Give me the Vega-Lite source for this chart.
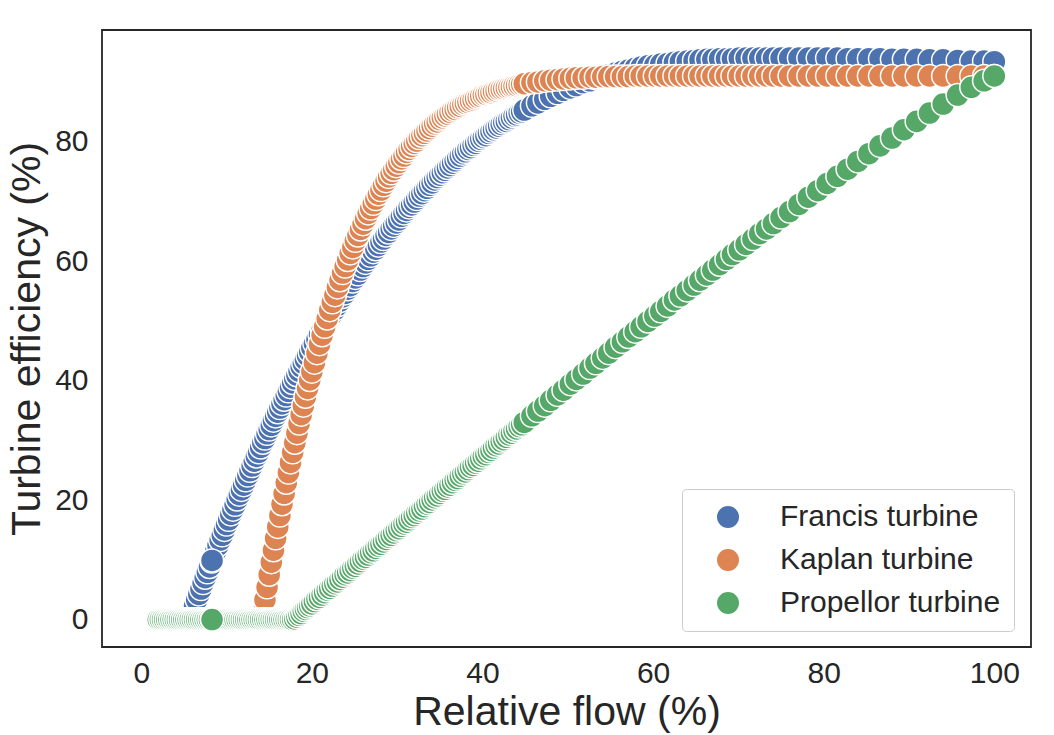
{
  "$schema": "https://vega.github.io/schema/vega-lite/v6.json",
  "width": 929,
  "height": 617,
  "autosize": {"type": "none"},
  "padding": {"left": 102, "top": 30, "right": 23, "bottom": 88},
  "background": "white",
  "datasets": {
    "francis": [
      {"flow":2,"eff":0},{"flow":2.25,"eff":0},{"flow":2.5,"eff":0},{"flow":2.75,"eff":0},{"flow":3,"eff":0},{"flow":3.25,"eff":0},{"flow":3.5,"eff":0},{"flow":3.75,"eff":0},{"flow":4,"eff":0},{"flow":4.25,"eff":0},{"flow":4.5,"eff":0},{"flow":4.75,"eff":0},{"flow":5,"eff":0},{"flow":5.25,"eff":0},{"flow":5.5,"eff":0},
      {"flow":5.75,"eff":0.4},{"flow":6,"eff":1.4},{"flow":6.25,"eff":2.3},{"flow":6.5,"eff":3.3},{"flow":6.75,"eff":4.2},{"flow":7,"eff":5.1},{"flow":7.25,"eff":6.1},{"flow":7.5,"eff":7.0},{"flow":7.75,"eff":7.9},{"flow":8,"eff":8.8},{"flow":8.25,"eff":9.7},{"flow":8.5,"eff":10.6},{"flow":8.75,"eff":11.5},{"flow":9,"eff":12.4},{"flow":9.25,"eff":13.3},{"flow":9.5,"eff":14.1},{"flow":9.75,"eff":15.0},{"flow":10,"eff":15.9},{"flow":10.25,"eff":16.7},{"flow":10.5,"eff":17.6},{"flow":10.75,"eff":18.4},{"flow":11,"eff":19.2},{"flow":11.25,"eff":20.1},{"flow":11.5,"eff":20.9},{"flow":11.75,"eff":21.7},{"flow":12,"eff":22.5},{"flow":12.25,"eff":23.3},{"flow":12.5,"eff":24.1},{"flow":12.75,"eff":24.9},{"flow":13,"eff":25.7},{"flow":13.25,"eff":26.5},{"flow":13.5,"eff":27.3},{"flow":13.75,"eff":28.0},{"flow":14,"eff":28.8},{"flow":14.25,"eff":29.6},{"flow":14.5,"eff":30.3},{"flow":14.75,"eff":31.1},{"flow":15,"eff":31.8},{"flow":15.25,"eff":32.5},{"flow":15.5,"eff":33.3},{"flow":15.75,"eff":34.0},{"flow":16,"eff":34.7},{"flow":16.25,"eff":35.4},{"flow":16.5,"eff":36.1},{"flow":16.75,"eff":36.8},{"flow":17,"eff":37.5},{"flow":17.25,"eff":38.2},{"flow":17.5,"eff":38.9},{"flow":17.75,"eff":39.6},{"flow":18,"eff":40.3},{"flow":18.25,"eff":40.9},{"flow":18.5,"eff":41.6},{"flow":18.75,"eff":42.3},{"flow":19,"eff":42.9},{"flow":19.25,"eff":43.5},{"flow":19.5,"eff":44.2},{"flow":19.75,"eff":44.8},{"flow":20,"eff":45.5},
      {"flow":20.3,"eff":46.2},{"flow":20.6,"eff":46.9},{"flow":20.9,"eff":47.7},{"flow":21.2,"eff":48.4},{"flow":21.5,"eff":49.1},{"flow":21.8,"eff":49.8},{"flow":22.1,"eff":50.6},{"flow":22.4,"eff":51.2},{"flow":22.7,"eff":51.9},{"flow":23,"eff":52.6},{"flow":23.3,"eff":53.3},{"flow":23.6,"eff":54.0},{"flow":23.9,"eff":54.6},{"flow":24.2,"eff":55.3},{"flow":24.5,"eff":55.9},{"flow":24.8,"eff":56.6},{"flow":25.1,"eff":57.2},{"flow":25.4,"eff":57.8},{"flow":25.7,"eff":58.5},{"flow":26,"eff":59.1},{"flow":26.3,"eff":59.7},{"flow":26.6,"eff":60.3},{"flow":26.9,"eff":60.9},{"flow":27.2,"eff":61.5},{"flow":27.5,"eff":62.0},{"flow":27.8,"eff":62.6},{"flow":28.1,"eff":63.2},{"flow":28.4,"eff":63.7},{"flow":28.7,"eff":64.3},{"flow":29,"eff":64.8},{"flow":29.3,"eff":65.4},{"flow":29.6,"eff":65.9},{"flow":29.9,"eff":66.4},{"flow":30.2,"eff":66.9},{"flow":30.5,"eff":67.5},{"flow":30.8,"eff":68.0},{"flow":31.1,"eff":68.5},{"flow":31.4,"eff":69.0},{"flow":31.7,"eff":69.4},{"flow":32,"eff":69.9},{"flow":32.3,"eff":70.4},{"flow":32.6,"eff":70.9},{"flow":32.9,"eff":71.3},{"flow":33.2,"eff":71.8},{"flow":33.5,"eff":72.2},{"flow":33.8,"eff":72.7},{"flow":34.1,"eff":73.1},{"flow":34.4,"eff":73.6},{"flow":34.7,"eff":74.0},{"flow":35,"eff":74.4},{"flow":35.3,"eff":74.8},{"flow":35.6,"eff":75.2},{"flow":35.9,"eff":75.6},{"flow":36.2,"eff":76.0},{"flow":36.5,"eff":76.4},{"flow":36.8,"eff":76.8},{"flow":37.1,"eff":77.2},{"flow":37.4,"eff":77.6},{"flow":37.7,"eff":78.0},{"flow":38,"eff":78.3},{"flow":38.3,"eff":78.7},{"flow":38.6,"eff":79.0},{"flow":38.9,"eff":79.4},{"flow":39.2,"eff":79.7},{"flow":39.5,"eff":80.1},{"flow":39.8,"eff":80.4},{"flow":40.1,"eff":80.7},{"flow":40.4,"eff":81.0},{"flow":40.7,"eff":81.4},{"flow":41,"eff":81.7},{"flow":41.3,"eff":82.0},{"flow":41.6,"eff":82.3},{"flow":41.9,"eff":82.6},{"flow":42.2,"eff":82.9},{"flow":42.5,"eff":83.2},{"flow":42.8,"eff":83.4},{"flow":43.1,"eff":83.7},{"flow":43.4,"eff":84.0},{"flow":43.7,"eff":84.3},{"flow":44,"eff":84.5},{"flow":44.3,"eff":84.8},{"flow":44.6,"eff":85.0},{"flow":44.9,"eff":85.3},
      {"flow":45.8,"eff":86.0},{"flow":46.5,"eff":86.5},{"flow":47.3,"eff":87.1},{"flow":48,"eff":87.6},{"flow":48.8,"eff":88.1},{"flow":49.5,"eff":88.6},{"flow":50.3,"eff":89.0},{"flow":51,"eff":89.4},{"flow":51.8,"eff":89.9},{"flow":52.6,"eff":90.2},{"flow":53.3,"eff":90.6},{"flow":54.1,"eff":90.9},{"flow":54.8,"eff":91.2},{"flow":55.6,"eff":91.5},{"flow":56.4,"eff":91.8},{"flow":57.1,"eff":92.0},{"flow":57.9,"eff":92.3},{"flow":58.6,"eff":92.5},{"flow":59.4,"eff":92.7},{"flow":60.2,"eff":92.8},{"flow":60.9,"eff":93.0},{"flow":61.7,"eff":93.1},{"flow":62.5,"eff":93.3},{"flow":63.2,"eff":93.4},{"flow":64,"eff":93.5},{"flow":64.8,"eff":93.6},{"flow":65.5,"eff":93.7},{"flow":66.3,"eff":93.8},{"flow":67,"eff":93.8},{"flow":67.8,"eff":93.9},{"flow":68.6,"eff":93.9},{"flow":69.3,"eff":93.9},{"flow":70.1,"eff":94.0},{"flow":70.9,"eff":94.0},{"flow":71.7,"eff":94.0},{"flow":72.5,"eff":94.0},{"flow":73.3,"eff":94.0},{"flow":74.1,"eff":94.0},{"flow":75,"eff":94.0},
      {"flow":76,"eff":94.0},{"flow":77.1,"eff":94.0},{"flow":78.2,"eff":94.0},{"flow":79.3,"eff":94.0},{"flow":80.4,"eff":94.0},{"flow":81.6,"eff":94.0},{"flow":82.8,"eff":93.9},{"flow":84,"eff":93.9},{"flow":85.3,"eff":93.9},{"flow":86.6,"eff":93.9},{"flow":88,"eff":93.8},{"flow":89.4,"eff":93.8},{"flow":90.9,"eff":93.8},{"flow":92.4,"eff":93.7},{"flow":94,"eff":93.7},{"flow":95.7,"eff":93.6},{"flow":97.3,"eff":93.5},{"flow":98.8,"eff":93.5},{"flow":100,"eff":93.4},
      {"flow":8.3,"eff":9.9}
    ],
    "kaplan": [
      {"flow":2,"eff":0},{"flow":2.25,"eff":0},{"flow":2.5,"eff":0},{"flow":2.75,"eff":0},{"flow":3,"eff":0},{"flow":3.25,"eff":0},{"flow":3.5,"eff":0},{"flow":3.75,"eff":0},{"flow":4,"eff":0},{"flow":4.25,"eff":0},{"flow":4.5,"eff":0},{"flow":4.75,"eff":0},{"flow":5,"eff":0},{"flow":5.25,"eff":0},{"flow":5.5,"eff":0},{"flow":5.75,"eff":0},{"flow":6,"eff":0},{"flow":6.25,"eff":0},{"flow":6.5,"eff":0},{"flow":6.75,"eff":0},{"flow":7,"eff":0},{"flow":7.25,"eff":0},{"flow":7.5,"eff":0},{"flow":7.75,"eff":0},{"flow":8,"eff":0},{"flow":8.25,"eff":0},{"flow":8.5,"eff":0},{"flow":8.75,"eff":0},{"flow":9,"eff":0},{"flow":9.25,"eff":0},{"flow":9.5,"eff":0},{"flow":9.75,"eff":0},{"flow":10,"eff":0},{"flow":10.25,"eff":0},{"flow":10.5,"eff":0},{"flow":10.75,"eff":0},{"flow":11,"eff":0},{"flow":11.25,"eff":0},{"flow":11.5,"eff":0},{"flow":11.75,"eff":0},{"flow":12,"eff":0},{"flow":12.25,"eff":0},{"flow":12.5,"eff":0},{"flow":12.75,"eff":0},{"flow":13,"eff":0},{"flow":13.25,"eff":0},{"flow":13.5,"eff":0},{"flow":13.75,"eff":0},{"flow":14,"eff":0},
      {"flow":14.25,"eff":1.1},{"flow":14.5,"eff":3.3},{"flow":14.75,"eff":5.4},{"flow":15,"eff":7.5},{"flow":15.25,"eff":9.6},{"flow":15.5,"eff":11.6},{"flow":15.75,"eff":13.6},{"flow":16,"eff":15.5},{"flow":16.25,"eff":17.4},{"flow":16.5,"eff":19.3},{"flow":16.75,"eff":21.1},{"flow":17,"eff":22.9},{"flow":17.25,"eff":24.6},{"flow":17.5,"eff":26.3},{"flow":17.75,"eff":28.0},{"flow":18,"eff":29.6},{"flow":18.25,"eff":31.2},{"flow":18.5,"eff":32.8},{"flow":18.75,"eff":34.3},{"flow":19,"eff":35.8},{"flow":19.25,"eff":37.3},{"flow":19.5,"eff":38.7},{"flow":19.75,"eff":40.1},{"flow":20,"eff":41.5},
      {"flow":20.3,"eff":43.0},{"flow":20.6,"eff":44.6},{"flow":20.9,"eff":46.1},{"flow":21.2,"eff":47.6},{"flow":21.5,"eff":49.0},{"flow":21.8,"eff":50.4},{"flow":22.1,"eff":51.8},{"flow":22.4,"eff":53.1},{"flow":22.7,"eff":54.3},{"flow":23,"eff":55.6},{"flow":23.3,"eff":56.8},{"flow":23.6,"eff":58.0},{"flow":23.9,"eff":59.1},{"flow":24.2,"eff":60.2},{"flow":24.5,"eff":61.3},{"flow":24.8,"eff":62.3},{"flow":25.1,"eff":63.4},{"flow":25.4,"eff":64.3},{"flow":25.7,"eff":65.3},{"flow":26,"eff":66.2},{"flow":26.3,"eff":67.1},{"flow":26.6,"eff":68.0},{"flow":26.9,"eff":68.8},{"flow":27.2,"eff":69.6},{"flow":27.5,"eff":70.4},{"flow":27.8,"eff":71.2},{"flow":28.1,"eff":71.9},{"flow":28.4,"eff":72.7},{"flow":28.7,"eff":73.4},{"flow":29,"eff":74.1},{"flow":29.3,"eff":74.7},{"flow":29.6,"eff":75.3},{"flow":29.9,"eff":75.9},{"flow":30.2,"eff":76.5},{"flow":30.5,"eff":77.1},{"flow":30.8,"eff":77.6},{"flow":31.1,"eff":78.2},{"flow":31.4,"eff":78.7},{"flow":31.7,"eff":79.2},{"flow":32,"eff":79.7},{"flow":32.3,"eff":80.1},{"flow":32.6,"eff":80.6},{"flow":32.9,"eff":81.0},{"flow":33.2,"eff":81.4},{"flow":33.5,"eff":81.8},{"flow":33.8,"eff":82.2},{"flow":34.1,"eff":82.6},{"flow":34.4,"eff":83.0},{"flow":34.7,"eff":83.3},{"flow":35,"eff":83.7},{"flow":35.3,"eff":84.0},{"flow":35.6,"eff":84.3},{"flow":35.9,"eff":84.6},{"flow":36.2,"eff":84.9},{"flow":36.5,"eff":85.2},{"flow":36.8,"eff":85.4},{"flow":37.1,"eff":85.7},{"flow":37.4,"eff":85.9},{"flow":37.7,"eff":86.2},{"flow":38,"eff":86.4},{"flow":38.3,"eff":86.6},{"flow":38.6,"eff":86.8},{"flow":38.9,"eff":87.0},{"flow":39.2,"eff":87.2},{"flow":39.5,"eff":87.4},{"flow":39.8,"eff":87.6},{"flow":40.1,"eff":87.8},{"flow":40.4,"eff":87.9},{"flow":40.7,"eff":88.1},{"flow":41,"eff":88.2},{"flow":41.3,"eff":88.4},{"flow":41.6,"eff":88.5},{"flow":41.9,"eff":88.7},{"flow":42.2,"eff":88.8},{"flow":42.5,"eff":88.9},{"flow":42.8,"eff":89.0},{"flow":43.1,"eff":89.1},{"flow":43.4,"eff":89.2},{"flow":43.7,"eff":89.3},{"flow":44,"eff":89.4},{"flow":44.3,"eff":89.5},{"flow":44.6,"eff":89.6},{"flow":44.9,"eff":89.7},
      {"flow":45.8,"eff":89.9},{"flow":46.5,"eff":90.0},{"flow":47.3,"eff":90.2},{"flow":48,"eff":90.3},{"flow":48.8,"eff":90.4},{"flow":49.5,"eff":90.5},{"flow":50.3,"eff":90.6},{"flow":51,"eff":90.7},{"flow":51.8,"eff":90.7},{"flow":52.6,"eff":90.8},{"flow":53.3,"eff":90.8},{"flow":54.1,"eff":90.9},{"flow":54.8,"eff":90.9},{"flow":55.6,"eff":90.9},{"flow":56.4,"eff":90.9},{"flow":57.1,"eff":90.9},{"flow":57.9,"eff":91.0},{"flow":58.6,"eff":91.0},{"flow":59.4,"eff":91.0},{"flow":60.2,"eff":91.0},{"flow":60.9,"eff":91.0},{"flow":61.7,"eff":91.0},{"flow":62.5,"eff":91.0},{"flow":63.2,"eff":91.0},{"flow":64,"eff":91.0},{"flow":64.8,"eff":91.0},{"flow":65.5,"eff":91.0},{"flow":66.3,"eff":91.0},{"flow":67,"eff":91.0},{"flow":67.8,"eff":91.0},{"flow":68.6,"eff":91.0},{"flow":69.3,"eff":91.0},{"flow":70.1,"eff":91.0},{"flow":70.9,"eff":91.0},{"flow":71.7,"eff":91.0},{"flow":72.5,"eff":91.0},{"flow":73.3,"eff":91.0},{"flow":74.1,"eff":91.0},{"flow":75,"eff":91.0},
      {"flow":76,"eff":91.0},{"flow":77.1,"eff":91.0},{"flow":78.2,"eff":91.0},{"flow":79.3,"eff":91.0},{"flow":80.4,"eff":91.0},{"flow":81.6,"eff":91.0},{"flow":82.8,"eff":91.0},{"flow":84,"eff":91.0},{"flow":85.3,"eff":91.0},{"flow":86.6,"eff":91.0},{"flow":88,"eff":91.0},{"flow":89.4,"eff":91.0},{"flow":90.9,"eff":91.0},{"flow":92.4,"eff":91.0},{"flow":94,"eff":91.0},{"flow":95.7,"eff":91.0},{"flow":97.3,"eff":91.0},{"flow":98.8,"eff":91.0},{"flow":100,"eff":91.0},
      {"flow":8.3,"eff":0}
    ],
    "propellor": [
      {"flow":2,"eff":0},{"flow":2.25,"eff":0},{"flow":2.5,"eff":0},{"flow":2.75,"eff":0},{"flow":3,"eff":0},{"flow":3.25,"eff":0},{"flow":3.5,"eff":0},{"flow":3.75,"eff":0},{"flow":4,"eff":0},{"flow":4.25,"eff":0},{"flow":4.5,"eff":0},{"flow":4.75,"eff":0},{"flow":5,"eff":0},{"flow":5.25,"eff":0},{"flow":5.5,"eff":0},{"flow":5.75,"eff":0},{"flow":6,"eff":0},{"flow":6.25,"eff":0},{"flow":6.5,"eff":0},{"flow":6.75,"eff":0},{"flow":7,"eff":0},{"flow":7.25,"eff":0},{"flow":7.5,"eff":0},{"flow":7.75,"eff":0},{"flow":8,"eff":0},{"flow":8.25,"eff":0},{"flow":8.5,"eff":0},{"flow":8.75,"eff":0},{"flow":9,"eff":0},{"flow":9.25,"eff":0},{"flow":9.5,"eff":0},{"flow":9.75,"eff":0},{"flow":10,"eff":0},{"flow":10.25,"eff":0},{"flow":10.5,"eff":0},{"flow":10.75,"eff":0},{"flow":11,"eff":0},{"flow":11.25,"eff":0},{"flow":11.5,"eff":0},{"flow":11.75,"eff":0},{"flow":12,"eff":0},{"flow":12.25,"eff":0},{"flow":12.5,"eff":0},{"flow":12.75,"eff":0},{"flow":13,"eff":0},{"flow":13.25,"eff":0},{"flow":13.5,"eff":0},{"flow":13.75,"eff":0},{"flow":14,"eff":0},{"flow":14.25,"eff":0},{"flow":14.5,"eff":0},{"flow":14.75,"eff":0},{"flow":15,"eff":0},{"flow":15.25,"eff":0},{"flow":15.5,"eff":0},{"flow":15.75,"eff":0},{"flow":16,"eff":0},{"flow":16.25,"eff":0},{"flow":16.5,"eff":0},{"flow":16.75,"eff":0},{"flow":17,"eff":0},{"flow":17.25,"eff":0},{"flow":17.5,"eff":0},{"flow":17.75,"eff":0},
      {"flow":18,"eff":0.1},{"flow":18.25,"eff":0.4},{"flow":18.5,"eff":0.7},{"flow":18.75,"eff":1.0},{"flow":19,"eff":1.4},{"flow":19.25,"eff":1.7},{"flow":19.5,"eff":2.0},{"flow":19.75,"eff":2.3},{"flow":20,"eff":2.6},
      {"flow":20.3,"eff":3.0},{"flow":20.6,"eff":3.4},{"flow":20.9,"eff":3.7},{"flow":21.2,"eff":4.1},{"flow":21.5,"eff":4.5},{"flow":21.8,"eff":4.9},{"flow":22.1,"eff":5.2},{"flow":22.4,"eff":5.6},{"flow":22.7,"eff":6.0},{"flow":23,"eff":6.3},{"flow":23.3,"eff":6.7},{"flow":23.6,"eff":7.1},{"flow":23.9,"eff":7.5},{"flow":24.2,"eff":7.8},{"flow":24.5,"eff":8.2},{"flow":24.8,"eff":8.6},{"flow":25.1,"eff":8.9},{"flow":25.4,"eff":9.3},{"flow":25.7,"eff":9.7},{"flow":26,"eff":10.1},{"flow":26.3,"eff":10.4},{"flow":26.6,"eff":10.8},{"flow":26.9,"eff":11.2},{"flow":27.2,"eff":11.5},{"flow":27.5,"eff":11.9},{"flow":27.8,"eff":12.3},{"flow":28.1,"eff":12.6},{"flow":28.4,"eff":13.0},{"flow":28.7,"eff":13.4},{"flow":29,"eff":13.8},{"flow":29.3,"eff":14.1},{"flow":29.6,"eff":14.5},{"flow":29.9,"eff":14.9},{"flow":30.2,"eff":15.2},{"flow":30.5,"eff":15.6},{"flow":30.8,"eff":16.0},{"flow":31.1,"eff":16.3},{"flow":31.4,"eff":16.7},{"flow":31.7,"eff":17.1},{"flow":32,"eff":17.4},{"flow":32.3,"eff":17.8},{"flow":32.6,"eff":18.2},{"flow":32.9,"eff":18.5},{"flow":33.2,"eff":18.9},{"flow":33.5,"eff":19.3},{"flow":33.8,"eff":19.6},{"flow":34.1,"eff":20.0},{"flow":34.4,"eff":20.4},{"flow":34.7,"eff":20.7},{"flow":35,"eff":21.1},{"flow":35.3,"eff":21.5},{"flow":35.6,"eff":21.8},{"flow":35.9,"eff":22.2},{"flow":36.2,"eff":22.5},{"flow":36.5,"eff":22.9},{"flow":36.8,"eff":23.3},{"flow":37.1,"eff":23.6},{"flow":37.4,"eff":24.0},{"flow":37.7,"eff":24.4},{"flow":38,"eff":24.7},{"flow":38.3,"eff":25.1},{"flow":38.6,"eff":25.5},{"flow":38.9,"eff":25.8},{"flow":39.2,"eff":26.2},{"flow":39.5,"eff":26.5},{"flow":39.8,"eff":26.9},{"flow":40.1,"eff":27.3},{"flow":40.4,"eff":27.6},{"flow":40.7,"eff":28.0},{"flow":41,"eff":28.3},{"flow":41.3,"eff":28.7},{"flow":41.6,"eff":29.1},{"flow":41.9,"eff":29.4},{"flow":42.2,"eff":29.8},{"flow":42.5,"eff":30.1},{"flow":42.8,"eff":30.5},{"flow":43.1,"eff":30.9},{"flow":43.4,"eff":31.2},{"flow":43.7,"eff":31.6},{"flow":44,"eff":31.9},{"flow":44.3,"eff":32.3},{"flow":44.6,"eff":32.6},{"flow":44.9,"eff":33.0},
      {"flow":45.8,"eff":34.1},{"flow":46.5,"eff":34.9},{"flow":47.3,"eff":35.8},{"flow":48,"eff":36.7},{"flow":48.8,"eff":37.6},{"flow":49.5,"eff":38.4},{"flow":50.3,"eff":39.4},{"flow":51,"eff":40.2},{"flow":51.8,"eff":41.1},{"flow":52.6,"eff":42.1},{"flow":53.3,"eff":42.9},{"flow":54.1,"eff":43.8},{"flow":54.8,"eff":44.6},{"flow":55.6,"eff":45.6},{"flow":56.4,"eff":46.5},{"flow":57.1,"eff":47.3},{"flow":57.9,"eff":48.2},{"flow":58.6,"eff":49.0},{"flow":59.4,"eff":49.9},{"flow":60.2,"eff":50.8},{"flow":60.9,"eff":51.6},{"flow":61.7,"eff":52.5},{"flow":62.5,"eff":53.5},{"flow":63.2,"eff":54.2},{"flow":64,"eff":55.1},{"flow":64.8,"eff":56.0},{"flow":65.5,"eff":56.8},{"flow":66.3,"eff":57.7},{"flow":67,"eff":58.5},{"flow":67.8,"eff":59.4},{"flow":68.6,"eff":60.3},{"flow":69.3,"eff":61.1},{"flow":70.1,"eff":61.9},{"flow":70.9,"eff":62.8},{"flow":71.7,"eff":63.7},{"flow":72.5,"eff":64.6},{"flow":73.3,"eff":65.4},{"flow":74.1,"eff":66.3},{"flow":75,"eff":67.3},
      {"flow":76,"eff":68.3},{"flow":77.1,"eff":69.5},{"flow":78.2,"eff":70.7},{"flow":79.3,"eff":71.8},{"flow":80.4,"eff":73.0},{"flow":81.6,"eff":74.2},{"flow":82.8,"eff":75.4},{"flow":84,"eff":76.7},{"flow":85.3,"eff":78.0},{"flow":86.6,"eff":79.3},{"flow":88,"eff":80.6},{"flow":89.4,"eff":82.0},{"flow":90.9,"eff":83.4},{"flow":92.4,"eff":84.8},{"flow":94,"eff":86.3},{"flow":95.7,"eff":87.8},{"flow":97.3,"eff":89.1},{"flow":98.8,"eff":90.2},{"flow":100,"eff":91.0},
      {"flow":8.3,"eff":0}
    ]
  },
  "encoding": {
    "x": {
      "field": "flow",
      "type": "quantitative",
      "scale": {"domain": [-4.6, 104.3], "nice": false, "zero": false},
      "axis": {"values": [0, 20, 40, 60, 80, 100], "title": "Relative flow (%)", "labelPadding": 11, "titlePadding": 4}
    },
    "y": {
      "field": "eff",
      "type": "quantitative",
      "scale": {"domain": [-4.6, 98.7], "nice": false, "zero": false},
      "axis": {"values": [0, 20, 40, 60, 80], "title": "Turbine efficiency (%)", "labelPadding": 14, "titlePadding": 6}
    }
  },
  "layer": [
    {
      "data": {"name": "francis"},
      "mark": {"type": "circle", "size": 530, "opacity": 1, "stroke": "white", "strokeWidth": 1.5},
      "encoding": {
        "color": {
          "datum": "Francis turbine",
          "type": "nominal",
          "scale": {"domain": ["Francis turbine", "Kaplan turbine", "Propellor turbine"], "range": ["#4c72b0", "#dd8452", "#55a868"]},
          "legend": {"title": null, "orient": "none", "legendX": 580, "legendY": 459}
        }
      }
    },
    {
      "data": {"name": "kaplan"},
      "mark": {"type": "circle", "size": 530, "opacity": 1, "stroke": "white", "strokeWidth": 1.5},
      "encoding": {
        "color": {"datum": "Kaplan turbine", "type": "nominal"}
      }
    },
    {
      "data": {"name": "propellor"},
      "mark": {"type": "circle", "size": 530, "opacity": 1, "stroke": "white", "strokeWidth": 1.5},
      "encoding": {
        "color": {"datum": "Propellor turbine", "type": "nominal"}
      }
    }
  ],
  "config": {
    "font": "Liberation Sans",
    "view": {"stroke": "#262626", "strokeWidth": 1.8},
    "axis": {
      "domain": false,
      "ticks": false,
      "grid": false,
      "labelFontSize": 30,
      "labelColor": "#262626",
      "titleFontSize": 41,
      "titleFontWeight": "normal",
      "titleColor": "#262626"
    },
    "legend": {
      "padding": 13,
      "symbolOffset": 18,
      "labelOffset": 37,
      "labelLimit": 0,
      "symbolSize": 484,
      "symbolType": "circle",
      "symbolStrokeWidth": 0,
      "symbolOpacity": 1,
      "labelFontSize": 30,
      "labelColor": "#262626",
      "rowPadding": 13,
      "strokeColor": "#cccccc",
      "fillColor": "white",
      "cornerRadius": 4
    }
  }
}
